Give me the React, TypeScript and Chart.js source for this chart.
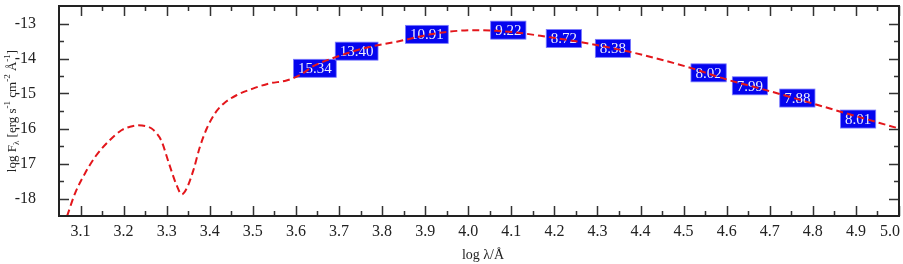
import React, { useEffect, useRef } from "react";
import { Chart, registerables } from "chart.js";

Chart.register(...registerables);

// SED model curve (log lambda / log F_lambda)
const curveX = [
  3.06, 3.068, 3.087, 3.11, 3.134, 3.164, 3.195, 3.215, 3.234, 3.25, 3.265, 3.276,
  3.288, 3.304, 3.323, 3.335, 3.346, 3.362, 3.377, 3.393, 3.412, 3.432, 3.462, 3.5,
  3.539, 3.578, 3.61, 3.64, 3.695, 3.757, 3.834, 3.912, 3.95,
  4.012, 4.066, 4.12, 4.182, 4.26, 4.375, 4.453, 4.522, 4.6, 4.693, 4.801, 4.878, 5.0,
];
const curveY = [
  -18.8, -18.53, -17.86, -17.29, -16.81, -16.38, -16.05, -15.95, -15.91, -15.93, -16.0, -16.13,
  -16.36, -16.95, -17.62, -17.88, -17.72, -17.19, -16.53, -16.0, -15.57, -15.29, -15.05, -14.86,
  -14.71, -14.63, -14.47, -14.22, -13.95, -13.71, -13.52, -13.31, -13.24,
  -13.19, -13.21, -13.27, -13.38, -13.53, -13.81, -14.05, -14.29, -14.6, -14.91, -15.29, -15.57, -16.0,
];

// Photometric labels
const photX = [3.644, 3.741, 3.904, 4.093, 4.222, 4.336, 4.558, 4.654, 4.764, 4.905];
const photY = [-14.28, -13.79, -13.31, -13.19, -13.43, -13.71, -14.41, -14.78, -15.13, -15.73];
const photLabels = ["15.34", "13.40", "10.91", "9.22", "8.72", "8.38", "8.02", "7.99", "7.88", "8.01"];

// Axes
const xMin = 3.05;
const xMax = 5.0;
const yMin = -18.5;
const yMax = -12.5;
const xMajorTicks = [3.1, 3.2, 3.3, 3.4, 3.5, 3.6, 3.7, 3.8, 3.9, 4.0, 4.1, 4.2, 4.3, 4.4, 4.5, 4.6, 4.7, 4.8, 4.9, 5.0];
const xMinorTicks = [3.15, 3.25, 3.35, 3.45, 3.55, 3.65, 3.75, 3.85, 3.95, 4.05, 4.15, 4.25, 4.35, 4.45, 4.55, 4.65, 4.75, 4.85, 4.95];
const yMajorTicks = [-13, -14, -15, -16, -17, -18];
const yMinorTicks = [-13.5, -14.5, -15.5, -16.5, -17.5];
const xTitle = "log λ/Å";

const SERIF = "'Liberation Serif', 'Times New Roman', serif";

const sedPlugin = {
  id: "sedDecor",
  beforeDatasetsDraw(chart: any) {
    const ctx = chart.ctx;
    const xs = chart.scales.x;
    const ys = chart.scales.y;
    ctx.save();
    ctx.font = `15px ${SERIF}`;
    ctx.textAlign = "center";
    ctx.textBaseline = "middle";
    photLabels.forEach((t, i) => {
      const cx = xs.getPixelForValue(photX[i]);
      const cy = ys.getPixelForValue(photY[i]);
      const w = ctx.measureText(t).width + 9;
      const h = 18;
      ctx.fillStyle = "#0505ee";
      ctx.fillRect(cx - w / 2, cy - h / 2, w, h);
      ctx.strokeStyle = "#7b7bff";
      ctx.lineWidth = 0.8;
      ctx.strokeRect(cx - w / 2, cy - h / 2, w, h);
      ctx.fillStyle = "#ececff";
      ctx.fillText(t, cx, cy + 1);
    });
    ctx.restore();
  },
  afterDraw(chart: any) {
    const ctx = chart.ctx;
    const xs = chart.scales.x;
    const ys = chart.scales.y;
    const a = chart.chartArea;
    ctx.save();
    // ticks
    ctx.strokeStyle = "#333";
    ctx.lineWidth = 1.5;
    const vTick = (v: number, len: number) => {
      const px = Math.round(xs.getPixelForValue(v)) + 0.5;
      ctx.beginPath();
      ctx.moveTo(px, a.bottom);
      ctx.lineTo(px, a.bottom - len);
      ctx.moveTo(px, a.top);
      ctx.lineTo(px, a.top + len);
      ctx.stroke();
    };
    const hTick = (v: number, len: number) => {
      const py = Math.round(ys.getPixelForValue(v)) + 0.5;
      ctx.beginPath();
      ctx.moveTo(a.left, py);
      ctx.lineTo(a.left + len, py);
      ctx.moveTo(a.right, py);
      ctx.lineTo(a.right - len, py);
      ctx.stroke();
    };
    xMajorTicks.forEach((v) => vTick(v, 10));
    xMinorTicks.forEach((v) => vTick(v, 5));
    yMajorTicks.forEach((v) => hTick(v, 10));
    yMinorTicks.forEach((v) => hTick(v, 5));
    // frame
    ctx.strokeStyle = "#222";
    ctx.lineWidth = 2;
    ctx.strokeRect(a.left, a.top, a.right - a.left, a.bottom - a.top);

    // x tick labels
    ctx.fillStyle = "#222";
    ctx.font = `16px ${SERIF}`;
    ctx.textBaseline = "middle";
    xMajorTicks.forEach((v, i) => {
      const px = xs.getPixelForValue(v);
      const last = i === xMajorTicks.length - 1;
      ctx.textAlign = last ? "right" : "center";
      ctx.fillText(v.toFixed(1), last ? px + 1 : px, a.bottom + 16);
    });

    // x title
    ctx.font = `14px ${SERIF}`;
    ctx.textAlign = "center";
    ctx.fillText(xTitle, (a.left + a.right) / 2 + 4, 255);

    // y title with sub/superscripts
    const parts: [string, number][] = [
      ["log F", 0],
      ["λ", -1],
      [" [erg s", 0],
      ["-1", 1],
      [" cm", 0],
      ["-2", 1],
      [" Å", 0],
      ["-1", 1],
      ["]", 0],
    ];
    const fontFor = (s: number) => (s === 0 ? `13px ${SERIF}` : `9px ${SERIF}`);
    let total = 0;
    parts.forEach(([t, s]) => {
      ctx.font = fontFor(s);
      total += ctx.measureText(t).width;
    });
    ctx.translate(11, (a.top + a.bottom) / 2);
    ctx.rotate(-Math.PI / 2);
    ctx.textAlign = "left";
    ctx.textBaseline = "alphabetic";
    let x = -total / 2;
    parts.forEach(([t, s]) => {
      ctx.font = fontFor(s);
      const dy = s === 0 ? 4.5 : s === -1 ? 7.5 : -1.5;
      ctx.fillText(t, x, dy);
      x += ctx.measureText(t).width;
    });
    ctx.restore();
  },
};

export default function App() {
  const ref = useRef<HTMLCanvasElement | null>(null);

  useEffect(() => {
    document.body.style.margin = "0";
    const canvas = ref.current;
    if (!canvas) return;
    const chart = new Chart(canvas, {
      type: "scatter",
      data: {
        datasets: [
          {
            label: "SED",
            data: curveX.map((x, i) => ({ x, y: curveY[i] })),
            showLine: true,
            borderColor: "#e3161b",
            borderWidth: 2,
            borderDash: [7, 4],
            pointRadius: 0,
            fill: false,
            cubicInterpolationMode: "monotone",
          } as any,
        ],
      },
      options: {
        animation: false,
        responsive: false,
        maintainAspectRatio: false,
        layout: { padding: { top: 6, right: 4, left: 0, bottom: 0 } },
        plugins: {
          legend: { display: false },
          tooltip: { enabled: false },
        },
        scales: {
          x: {
            type: "linear",
            min: xMin,
            max: xMax,
            grid: { display: false },
            border: { display: false },
            ticks: { display: false },
            afterBuildTicks: (s: any) => {
              s.ticks = xMajorTicks.map((v) => ({ value: v }));
            },
            afterFit: (s: any) => {
              s.height = 48;
              s.paddingLeft = 0;
              s.paddingRight = 0;
            },
          },
          y: {
            type: "linear",
            min: yMin,
            max: yMax,
            grid: { display: false },
            border: { display: false },
            ticks: {
              color: "#222",
              padding: 15,
              font: { family: SERIF, size: 16 },
              callback: (v: any) => String(v),
            },
            afterBuildTicks: (s: any) => {
              s.ticks = yMajorTicks.map((v) => ({ value: v }));
            },
            afterFit: (s: any) => {
              s.width = 59;
              s.paddingTop = 0;
              s.paddingBottom = 0;
            },
          },
        },
      },
      plugins: [sedPlugin],
    });
    return () => chart.destroy();
  }, []);

  return (
    <div style={{ position: "relative", width: 903, height: 264, background: "#fff" }}>
      <canvas ref={ref} width={903} height={264} style={{ display: "block" }} />
    </div>
  );
}
